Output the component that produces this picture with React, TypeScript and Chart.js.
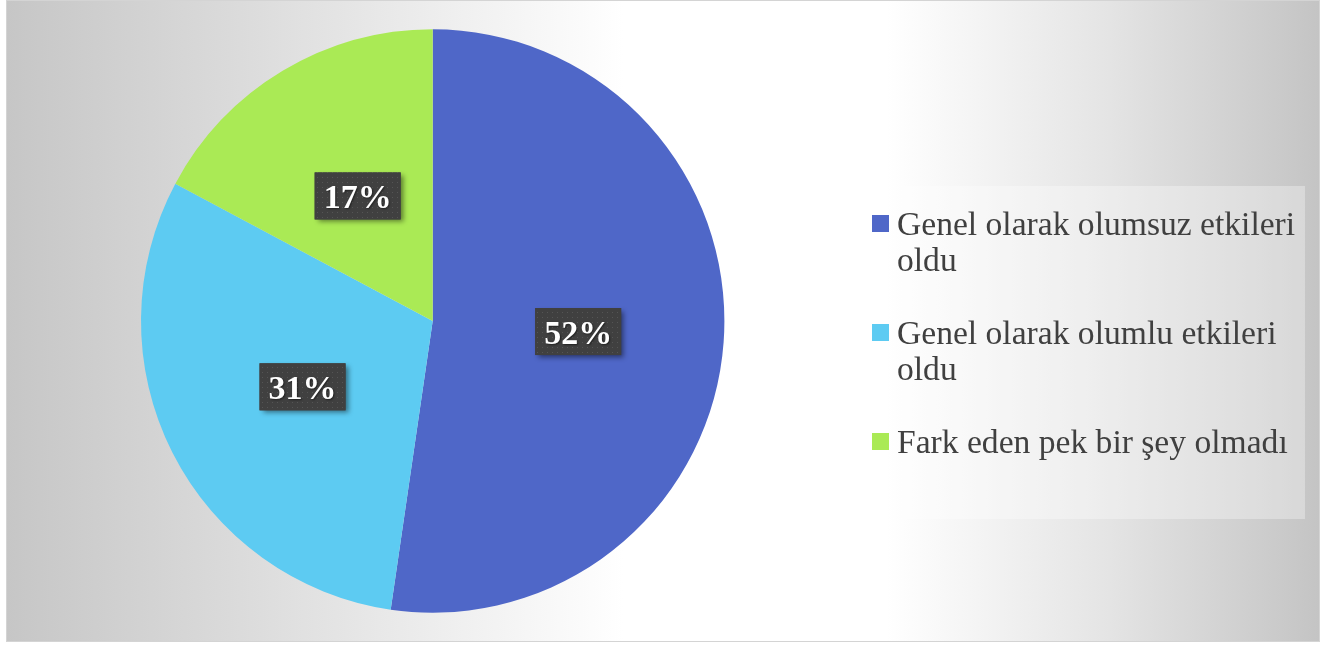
import React, { useEffect, useRef } from "react";
import { Chart, registerables } from "chart.js";

Chart.register(...registerables);

const categories = [
  "Genel olarak olumsuz etkileri oldu",
  "Genel olarak olumlu etkileri oldu",
  "Fark eden pek bir şey olmadı",
];
const shares = [52.3, 30.5, 17.2];
const percentLabels = ["52%", "31%", "17%"];
const sliceColors = ["#4F67C8", "#5DCBF2", "#AAEA55"];

const W = 1337;
const H = 646;

const backgroundPlugin = {
  id: "bgPlugin",
  beforeDraw(chart: any) {
    const ctx = chart.ctx as CanvasRenderingContext2D;
    ctx.save();
    ctx.fillStyle = "#ffffff";
    ctx.fillRect(0, 0, W, H);
    const x0 = 6, x1 = 1320, y0 = 0, y1 = 642;
    const g = ctx.createLinearGradient(x0, 0, x1, 0);
    g.addColorStop(0, "#c6c6c6");
    g.addColorStop(0.17, "#dadada");
    g.addColorStop(0.47, "#ffffff");
    g.addColorStop(0.67, "#ffffff");
    g.addColorStop(0.84, "#e4e4e4");
    g.addColorStop(1, "#c4c4c4");
    ctx.fillStyle = g;
    ctx.fillRect(x0, y0, x1 - x0, y1 - y0);
    ctx.strokeStyle = "#d4d4d4";
    ctx.lineWidth = 1;
    ctx.strokeRect(x0 + 0.5, y0 + 0.5, x1 - x0 - 1, y1 - y0 - 1);
    ctx.restore();
  },
};

let dotPattern: CanvasPattern | null = null;
function getPattern(ctx: CanvasRenderingContext2D) {
  if (dotPattern) return dotPattern;
  const c = document.createElement("canvas");
  c.width = 5;
  c.height = 5;
  const p = c.getContext("2d")!;
  p.fillStyle = "#404040";
  p.fillRect(0, 0, 5, 5);
  p.fillStyle = "#555555";
  p.fillRect(2, 2, 1, 1);
  dotPattern = ctx.createPattern(c, "repeat");
  return dotPattern;
}

const labelPlugin = {
  id: "labelPlugin",
  afterDatasetsDraw(chart: any) {
    const ctx = chart.ctx as CanvasRenderingContext2D;
    const meta = chart.getDatasetMeta(0);
    meta.data.forEach((arc: any, i: number) => {
      const pt = arc.getCenterPoint();
      const bw = 86, bh = 47;
      const bx = pt.x - bw / 2, by = pt.y - bh / 2;
      ctx.save();
      ctx.shadowColor = "rgba(0,0,0,0.45)";
      ctx.shadowBlur = 5;
      ctx.shadowOffsetX = 3;
      ctx.shadowOffsetY = 3;
      ctx.fillStyle = "#404040";
      ctx.fillRect(bx, by, bw, bh);
      ctx.restore();
      ctx.save();
      ctx.fillStyle = getPattern(ctx) || "#404040";
      ctx.fillRect(bx, by, bw, bh);
      ctx.fillStyle = "#ffffff";
      ctx.font = "bold 34px 'Liberation Serif'";
      ctx.textAlign = "center";
      ctx.textBaseline = "alphabetic";
      ctx.shadowColor = "rgba(0,0,0,0.5)";
      ctx.shadowBlur = 2;
      ctx.shadowOffsetX = 1;
      ctx.shadowOffsetY = 1;
      ctx.fillText(percentLabels[i], pt.x, pt.y + 12);
      ctx.restore();
    });
  },
};

function wrapText(ctx: CanvasRenderingContext2D, text: string, maxW: number) {
  const words = text.split(" ");
  const lines: string[] = [];
  let cur = "";
  for (const w of words) {
    const test = cur ? cur + " " + w : w;
    if (ctx.measureText(test).width > maxW && cur) {
      lines.push(cur);
      cur = w;
    } else {
      cur = test;
    }
  }
  if (cur) lines.push(cur);
  return lines;
}

const legendPlugin = {
  id: "customLegend",
  afterDraw(chart: any) {
    const ctx = chart.ctx as CanvasRenderingContext2D;
    const labels: string[] = chart.data.labels;
    const colors: string[] = chart.data.datasets[0].backgroundColor;
    ctx.save();
    ctx.fillStyle = "rgba(255,255,255,0.32)";
    ctx.fillRect(860, 186, 445, 333);
    ctx.font = "33.6px 'Liberation Serif'";
    ctx.textBaseline = "alphabetic";
    ctx.textAlign = "left";
    let baseline = 235;
    const lineH = 36;
    labels.forEach((lab, i) => {
      ctx.fillStyle = colors[i];
      ctx.fillRect(872, baseline - 20, 17, 17);
      ctx.fillStyle = "#404040";
      const lines = wrapText(ctx, lab, 405);
      lines.forEach((ln, j) => {
        ctx.fillText(ln, 897, baseline + j * lineH);
      });
      baseline += (lines.length - 1) * lineH + 73;
    });
    ctx.restore();
  },
};

export default function App() {
  const ref = useRef<HTMLCanvasElement | null>(null);
  useEffect(() => {
    if (!ref.current) return;
    const chart = new Chart(ref.current, {
      type: "pie",
      data: {
        labels: categories,
        datasets: [
          {
            data: shares,
            backgroundColor: sliceColors,
            borderWidth: 0,
          },
        ],
      },
      options: {
        responsive: false,
        animation: false,
        events: [],
        layout: {
          padding: { left: 141, right: 612.6, top: 29.3, bottom: 33.3 },
        },
        plugins: {
          legend: { display: false },
          tooltip: { enabled: false },
        },
      },
      plugins: [backgroundPlugin, labelPlugin, legendPlugin],
    });
    return () => chart.destroy();
  }, []);
  return (
    <div style={{ position: "absolute", left: 0, top: 0, width: W, height: H }}>
      <canvas ref={ref} width={W} height={H} style={{ display: "block", width: W, height: H }} />
    </div>
  );
}
